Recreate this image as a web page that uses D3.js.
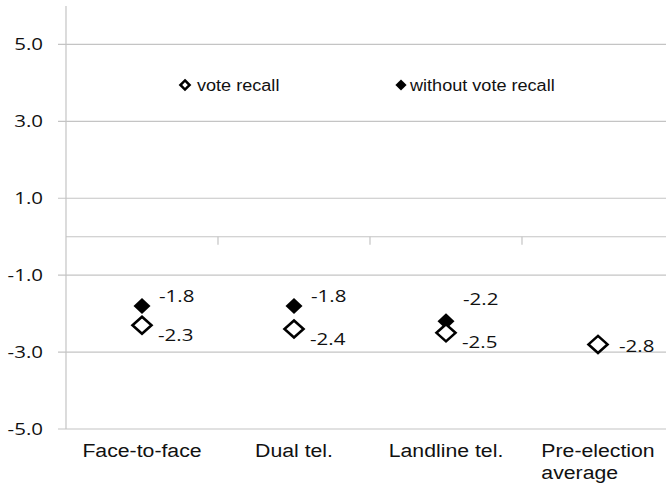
<!DOCTYPE html>
<html>
<head>
<meta charset="utf-8">
<script src="https://cdn.jsdelivr.net/npm/d3@7"></script>
<style>
  body { margin: 0; background: #fff; }
  svg { display: block; }
</style>
</head>
<body>
<div id="chart"></div>
<script>
// Chart data
const categories = ["Face-to-face", "Dual tel.", "Landline tel.", "Pre-election average"];
const voteRecall = [-2.3, -2.4, -2.5, -2.8];
const withoutVoteRecall = [-1.8, -1.8, -2.2, null];
const yTicks = [-5, -3, -1, 1, 3, 5];
const seriesNames = ["vote recall", "without vote recall"];

const width = 666;
const height = 488;
const margin = { top: 6, right: -8, bottom: 59, left: 66 };

const svg = d3.select("#chart")
    .append("svg")
    .attr("width", width)
    .attr("height", height);

const x = d3.scaleBand()
    .domain(categories)
    .range([margin.left, width - margin.right])
    .padding(0);

const y = d3.scaleLinear()
    .domain([-5, 6])
    .range([height - margin.bottom, margin.top]);

const gridColor = "#c4c4c4";
const textColor = "#111";

// plain hyphen instead of the unicode minus
const fmt = d => d3.format(".1f")(d).replace("\u2212", "-");

// stretch text a bit wider, the original is drawn wide
function stretch(sel, k) {
    sel.each(function() {
        const w = this.getComputedTextLength();
        d3.select(this)
            .attr("textLength", w * k)
            .attr("lengthAdjust", "spacingAndGlyphs");
    });
}

// Gridlines (with a short outward tick)
svg.append("g")
    .selectAll("line")
    .data(yTicks)
    .enter()
    .append("line")
    .attr("x1", margin.left - 8)
    .attr("x2", width)
    .attr("y1", d => y(d))
    .attr("y2", d => y(d))
    .attr("stroke", gridColor)
    .attr("stroke-width", 1.2);

// Y axis labels
const yAxis = svg.append("g")
    .attr("transform", `translate(${margin.left},0)`)
    .call(d3.axisLeft(y).tickValues(yTicks).tickSize(8).tickPadding(15)
        .tickFormat(fmt));
yAxis.select(".domain").remove();
yAxis.selectAll(".tick line").remove();
yAxis.selectAll("text")
    .attr("fill", textColor)
    .style("font-family", "'Open Sans', sans-serif")
    .style("font-size", "16px");
yAxis.selectAll("text").call(stretch, 1.28);

// Y axis line
svg.append("line")
    .attr("x1", margin.left)
    .attr("x2", margin.left)
    .attr("y1", y(6))
    .attr("y2", y(-5))
    .attr("stroke", gridColor)
    .attr("stroke-width", 1.2);

// Zero line with category boundary ticks
svg.append("line")
    .attr("x1", margin.left)
    .attr("x2", width)
    .attr("y1", y(0))
    .attr("y2", y(0))
    .attr("stroke", gridColor)
    .attr("stroke-width", 1.2);

svg.append("g")
    .selectAll("line")
    .data(categories.slice(1))
    .enter()
    .append("line")
    .attr("x1", d => x(d))
    .attr("x2", d => x(d))
    .attr("y1", y(0))
    .attr("y2", y(0) + 8)
    .attr("stroke", gridColor)
    .attr("stroke-width", 1.2);

// Category labels
const xAxis = svg.append("g")
    .attr("transform", `translate(0,${y(-5)})`)
    .call(d3.axisBottom(x).tickSize(0).tickPadding(15));
xAxis.select(".domain").remove();
xAxis.selectAll("text")
    .attr("fill", textColor)
    .style("font-family", "'Liberation Sans', Arial, sans-serif")
    .style("font-size", "18px")
    .each(function(d) {
        const t = d3.select(this);
        if (d.length > 14) {
            const i = d.lastIndexOf(" ");
            const lines = [d.slice(0, i), d.slice(i + 1)];
            t.text(null).attr("text-anchor", "start");
            lines.forEach((s, j) => {
                t.append("tspan")
                    .attr("x", 0)
                    .attr("dy", j === 0 ? "0.71em" : "1.25em")
                    .text(s);
            });
            t.attr("dy", null);
        }
    });
xAxis.selectAll("text").filter(function() { return this.childElementCount === 0; })
    .call(stretch, 1.18);
xAxis.selectAll("tspan").call(stretch, 1.18);
// left-align the wrapped label block on its band center
xAxis.selectAll("text").filter(function() { return this.childElementCount > 0; })
    .each(function() {
        const w = d3.max(d3.select(this).selectAll("tspan").nodes(), n => +n.getAttribute("textLength"));
        d3.select(this).selectAll("tspan").attr("x", -w / 2);
    });

// diamond path
function diamond(cx, cy, hw, hh) {
    return `M${cx},${cy - hh} L${cx + hw},${cy} L${cx},${cy + hh} L${cx - hw},${cy} Z`;
}

const cx = d => x(d) + x.bandwidth() / 2;

const filled = categories.map((c, i) => ({ c, v: withoutVoteRecall[i], other: voteRecall[i] }))
    .filter(d => d.v !== null);
const open = categories.map((c, i) => ({ c, v: voteRecall[i], other: withoutVoteRecall[i] }))
    .filter(d => d.v !== null);

// Without vote recall (filled), drawn first so the open ones sit on top
svg.append("g")
    .selectAll("path")
    .data(filled)
    .enter()
    .append("path")
    .attr("d", d => diamond(cx(d.c), y(d.v), 8.5, 8))
    .attr("fill", "#000");

// Vote recall (open)
svg.append("g")
    .selectAll("path")
    .data(open)
    .enter()
    .append("path")
    .attr("d", d => diamond(cx(d.c), y(d.v), 9.5, 8.5))
    .attr("fill", "#fff")
    .attr("stroke", "#000")
    .attr("stroke-width", 2.6)
    .attr("stroke-linejoin", "miter");

// Data labels
svg.append("g")
    .selectAll("text")
    .data(filled)
    .enter()
    .append("text")
    .attr("x", d => cx(d.c) + 17)
    .attr("y", d => y(d.v) - (Math.abs(d.v - d.other) < 0.4 ? 22 : 10))
    .attr("dy", "0.35em")
    .attr("fill", textColor)
    .style("font-family", "'Open Sans', sans-serif")
    .style("font-size", "16px")
    .text(d => fmt(d.v))
    .call(stretch, 1.28);

svg.append("g")
    .selectAll("text")
    .data(open)
    .enter()
    .append("text")
    .attr("x", d => cx(d.c) + (d.other === null ? 21 : 16))
    .attr("y", d => y(d.v) + (d.other === null ? 2 : 10))
    .attr("dy", "0.35em")
    .attr("fill", textColor)
    .style("font-family", "'Open Sans', sans-serif")
    .style("font-size", "16px")
    .text(d => fmt(d.v))
    .call(stretch, 1.28);

// Legend
const legend = svg.append("g")
    .selectAll("g")
    .data(seriesNames)
    .enter()
    .append("g")
    .attr("transform", (d, i) => `translate(${i === 0 ? 185 : 401},85)`);

legend.append("path")
    .attr("d", (d, i) => i === 0 ? diamond(0, 0, 4.6, 4.6) : diamond(0, 0, 5.6, 5.6))
    .attr("fill", (d, i) => i === 0 ? "#fff" : "#000")
    .attr("stroke", (d, i) => i === 0 ? "#000" : "none")
    .attr("stroke-width", 2.5);

legend.append("text")
    .attr("x", (d, i) => i === 0 ? 12 : 9)
    .attr("dy", "0.35em")
    .attr("fill", textColor)
    .style("font-family", "'Liberation Sans', Arial, sans-serif")
    .style("font-size", "16px")
    .text(d => d)
    .call(stretch, 1.13);
</script>
</body>
</html>
